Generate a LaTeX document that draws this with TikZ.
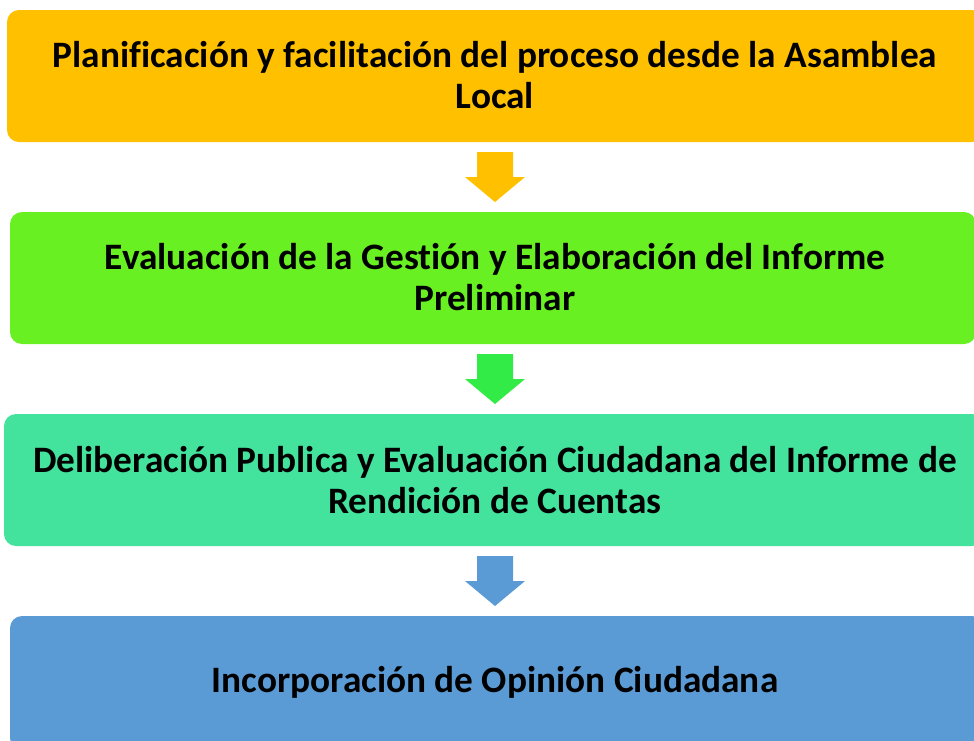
\documentclass[tikz,border=0pt]{standalone}
\usepackage{fontspec}
\setmainfont{Carlito}[Ligatures=NoCommon]
\definecolor{cOrange}{HTML}{FFC000}
\definecolor{cGreen}{HTML}{68F022}
\definecolor{cGreenArr}{HTML}{33EB47}
\definecolor{cTeal}{HTML}{43E29D}
\definecolor{cBlue}{HTML}{5B9BD5}
\tikzset{
  stepbox/.style={inner sep=0pt, align=center,
    font=\fontsize{37.3}{41.5}\selectfont\bfseries, text=black}
}
\newcommand{\blockarrow}[3]{% color, x, top y
  \fill[#1] (#2-18,#3) -- (#2+18,#3) -- (#2+18,#3+25) -- (#2+30,#3+25)
    -- (#2,#3+50) -- (#2-30,#3+25) -- (#2-18,#3+25) -- cycle;}
\begin{document}
\begin{tikzpicture}[x=1pt,y=-1pt]
\useasboundingbox (0,0) rectangle (974,740);
\clip (0,0) rectangle (974,740);
% boxes
\fill[cOrange, rounded corners=12pt] (7,10) rectangle (984,142);
\fill[cGreen, rounded corners=12pt] (10,212) rectangle (976,344);
\fill[cTeal, rounded corners=12pt] (4,414) rectangle (984,546);
\fill[cBlue, rounded corners=12pt] (10,616) rectangle (984,750);
\node[stepbox] (b1) at (495,75) {Planificación y facilitación del proceso desde la Asamblea\\Local};
\node[stepbox] (b2) at (495,277) {Evaluación de la Gestión y Elaboración del Informe\\Preliminar};
\node[stepbox] (b3) at (495,480) {Deliberación Publica y Evaluación Ciudadana del Informe de\\Rendición de Cuentas};
\node[stepbox] (b4) at (495,682) {Incorporación de Opinión Ciudadana};
% arrows
\blockarrow{cOrange}{495}{152}
\blockarrow{cGreenArr}{495}{354}
\blockarrow{cBlue}{495}{556}
\end{tikzpicture}
\end{document}
